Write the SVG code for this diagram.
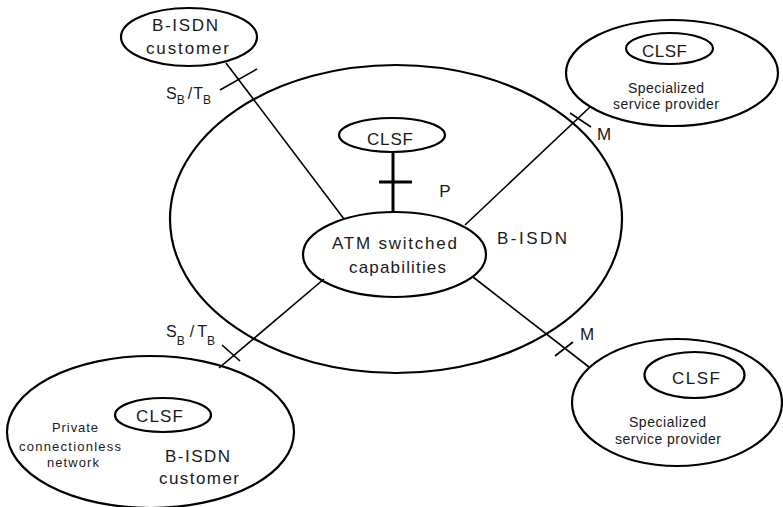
<svg xmlns="http://www.w3.org/2000/svg" width="783" height="507" viewBox="0 0 783 507">
<style>
.el{fill:none;stroke:#000;stroke-width:2.2}
.cn{stroke:#000;stroke-width:1.6;fill:none}
.th{stroke:#000;stroke-width:3;fill:none}
text{font-family:"Liberation Sans",Arial,sans-serif;fill:#1a1a1a}
.t17{font-size:17px;text-anchor:middle}
.t14{font-size:14px;text-anchor:middle}
.t13{font-size:13px;text-anchor:middle}
.lb{font-size:16px}
.sb{font-size:12px}
</style>
<rect width="783" height="507" fill="#fff"/>
<g id="connectors">
<line class="cn" x1="226" y1="63" x2="344" y2="219"/>
<line class="cn" x1="220" y1="90" x2="257" y2="69"/>
<line class="th" x1="393" y1="152" x2="393" y2="212"/>
<line class="th" x1="379" y1="182" x2="412" y2="182"/>
<line class="cn" x1="465" y1="225" x2="590" y2="107"/>
<line class="cn" x1="570" y1="113" x2="591" y2="127"/>
<line class="cn" x1="473" y1="277" x2="589" y2="367"/>
<line class="cn" x1="555" y1="356" x2="573" y2="342"/>
<line class="cn" x1="324" y1="279" x2="219" y2="368"/>
<line class="cn" x1="222" y1="345" x2="240" y2="361"/>
<text class="lb" x="166" y="99">S<tspan class="sb" dy="5">B</tspan><tspan dx="3" dy="-5">/</tspan><tspan dx="1">T</tspan><tspan class="sb" dx="0" dy="5">B</tspan></text>
<text class="lb" x="166" y="337">S<tspan class="sb" dy="8">B</tspan><tspan dx="5" dy="-8">/</tspan><tspan dx="3">T</tspan><tspan class="sb" dx="0" dy="8">B</tspan></text>
<text class="t17" x="445" y="197">P</text>
<text class="t17" x="604" y="140">M</text>
<text class="t17" x="587" y="340">M</text>
</g>
<g id="bisdn">
<ellipse class="el" cx="396" cy="219" rx="226" ry="154"/>
<text class="t17" x="532" y="244" textLength="70">B-ISDN</text>
</g>
<g id="atm">
<ellipse class="el" cx="394.5" cy="254.5" rx="91.5" ry="42.5"/>
<text class="t17" x="394.5" y="249" textLength="125">ATM switched</text>
<text class="t17" x="397.5" y="273" textLength="97">capabilities</text>
</g>
<g id="clsf-center">
<ellipse class="el" cx="392" cy="135" rx="53" ry="17"/>
<text class="t17" x="390" y="145" textLength="46">CLSF</text>
</g>
<g id="customer-top">
<ellipse class="el" cx="189" cy="37" rx="68" ry="29"/>
<text class="t17" x="185" y="31" textLength="66">B-ISDN</text>
<text class="t17" x="187.5" y="54" textLength="83">customer</text>
</g>
<g id="ssp-top">
<ellipse class="el" cx="672" cy="73" rx="106" ry="53"/>
<ellipse class="el" cx="669.5" cy="48.5" rx="43.5" ry="15.5"/>
<text class="t17" x="664.5" y="57" textLength="45">CLSF</text>
<text class="t14" x="666" y="93" textLength="76">Specialized</text>
<text class="t14" x="666" y="109" textLength="106">service provider</text>
</g>
<g id="ssp-bottom">
<ellipse class="el" cx="677" cy="402.5" rx="105" ry="63.5"/>
<ellipse class="el" cx="694.5" cy="375" rx="50" ry="23"/>
<text class="t17" x="696" y="384" textLength="48">CLSF</text>
<text class="t14" x="667.5" y="427" textLength="77">Specialized</text>
<text class="t14" x="668" y="444" textLength="106">service provider</text>
</g>
<g id="customer-bottom">
<ellipse class="el" cx="150.5" cy="432" rx="143.5" ry="76"/>
<ellipse class="el" cx="163" cy="415" rx="48" ry="17"/>
<text class="t17" x="159.5" y="422" textLength="47">CLSF</text>
<text class="t13" x="75" y="432" textLength="46">Private</text>
<text class="t13" x="70" y="451" textLength="102">connectionless</text>
<text class="t13" x="73" y="467" textLength="52">network</text>
<text class="t17" x="197.5" y="462" textLength="65">B-ISDN</text>
<text class="t17" x="199" y="484" textLength="80">customer</text>
</g>
</svg>
